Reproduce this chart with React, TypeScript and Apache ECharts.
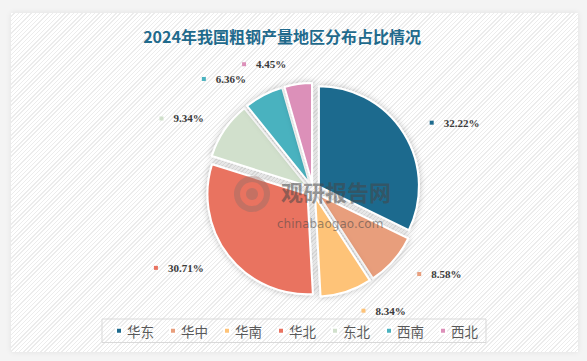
import React, { useEffect, useRef } from "react";
import * as echarts from "echarts";

const titleText = "2024年我国粗钢产量地区分布占比情况";
const regions = ["华东", "华中", "华南", "华北", "东北", "西南", "西北"];
const shares = [32.22, 8.58, 8.34, 30.71, 9.34, 6.36, 4.45];
const colors = ["#1e6b8e", "#e89e7c", "#fec378", "#e97361", "#d1e0cc", "#4ab2bf", "#dc90b9"];

export default function App() {
  const ref = useRef<HTMLDivElement>(null);
  useEffect(() => {
    if (!ref.current) return;
    const chart = echarts.init(ref.current, null, { renderer: "svg" });
    const rich: Record<string, any> = {
      v: { fontFamily: "Liberation Serif", fontWeight: "bold", fontSize: 11, color: "#3a3a3a" },
    };
    colors.forEach((c, i) => {
      rich["c" + i] = { width: 4, height: 4, backgroundColor: c };
    });
    const wm = "rgba(70,70,70,0.55)";
    const logo = "rgba(150,110,105,0.45)";
    chart.setOption({
      animation: false,
      color: colors,
      title: {
        text: titleText,
        left: 277,
        top: 23,
        textAlign: "center",
        textStyle: { fontFamily: "Noto Sans CJK SC", fontWeight: "bold", fontSize: 16, color: "#1f6a8c" },
      },
      legend: {
        left: 102,
        top: 319,
        orient: "horizontal",
        icon: "rect",
        itemWidth: 6,
        itemHeight: 6,
        itemGap: 15,
        padding: [5, 8, 5, 13],
        borderColor: "#d9d9d9",
        borderWidth: 1,
        textStyle: { fontFamily: "Noto Sans CJK SC", fontSize: 13.5, color: "#595959" },
        data: regions,
      },
      graphic: [
        {
          type: "ring",
          z: 100,
          zlevel: 1,
          silent: true,
          shape: { cx: 252, cy: 194, r: 18, r0: 12 },
          style: { fill: logo },
        },
        {
          type: "circle",
          z: 100,
          zlevel: 1,
          silent: true,
          shape: { cx: 252, cy: 194, r: 6 },
          style: { fill: logo },
        },
        {
          type: "text",
          z: 100,
          zlevel: 1,
          silent: true,
          x: 281,
          y: 180,
          style: {
            text: "观研报告网",
            fontFamily: "Noto Sans CJK SC",
            fontWeight: "bold",
            fontSize: 22,
            fill: wm,
          },
        },
        {
          type: "text",
          z: 100,
          zlevel: 1,
          silent: true,
          x: 277,
          y: 218,
          style: {
            text: "chinabaogao.com",
            fontFamily: "DejaVu Sans",
            fontSize: 12,
            fill: wm,
          },
        },
      ],
      series: [
        {
          type: "pie",
          center: [313, 190],
          radius: 100,
          startAngle: 90,
          clockwise: true,
          selectedMode: "multiple",
          selectedOffset: 7,
          emphasis: { disabled: true },
          itemStyle: {
            borderColor: "#ffffff",
            borderWidth: 2,
            shadowBlur: 6,
            shadowColor: "rgba(0,0,0,0.25)",
          },
          labelLine: { show: false, length: 20, length2: 4 },
          label: {
            show: true,
            position: "outside",
            formatter: (p: any) => `{c${p.dataIndex}|}   {v|${p.value.toFixed(2)}%}`,
            rich,
          },
          data: regions.map((n, i) => ({ name: n, value: shares[i], selected: true })),
        },
      ],
    });
    return () => chart.dispose();
  }, []);
  return (
    <div style={{ position: "fixed", left: 0, top: 0, width: 587, height: 361, background: "#f4f4f4" }}>
      <div
        style={{
          position: "absolute",
          left: 11,
          top: 13,
          width: 567,
          height: 339,
          background: "repeating-linear-gradient(135deg, #ffffff 0px, #ffffff 2px, #ececec 2px, #ececec 3px)",
          boxShadow: "0 0 6px rgba(0,0,0,0.08)",
        }}
      />
      <div ref={ref} style={{ position: "absolute", left: 0, top: 0, width: 587, height: 361 }} />
    </div>
  );
}
